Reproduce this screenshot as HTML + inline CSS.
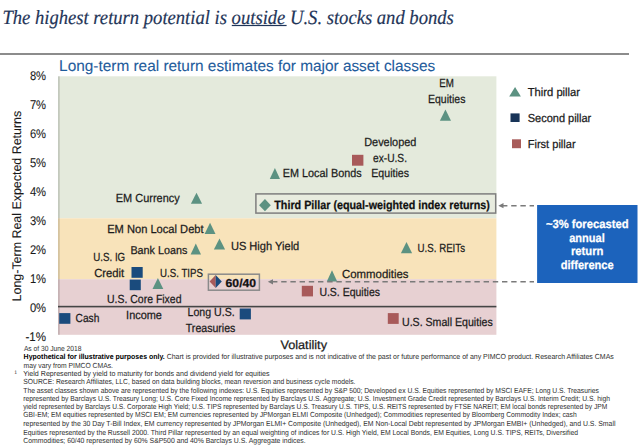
<!DOCTYPE html>
<html><head><meta charset="utf-8"><title>Chart</title>
<style>
html,body{margin:0;padding:0;background:#fff;width:643px;height:447px;overflow:hidden}
svg{display:block} text{text-rendering:geometricPrecision}
</style></head><body>
<svg width="643" height="447" viewBox="0 0 643 447">
<rect width="643" height="447" fill="#fff"/>
<text x="2.4" y="24.3" font-family='"Liberation Serif", serif' font-size="20.2" font-style="italic" fill="#1f3558" stroke="#1f3558" stroke-width="0.2" textLength="451.4" lengthAdjust="spacingAndGlyphs">The highest return potential is outside U.S. stocks and bonds</text>
<rect x="231.8" y="24.9" width="54.8" height="1.2" fill="#1f3558"/>
<rect x="0" y="53" width="629" height="2" fill="#8c8c8c"/>
<text x="59.1" y="70.7" font-family='"Liberation Sans", sans-serif' font-size="15.5" font-weight="normal" font-style="normal" fill="#1f5c9c" stroke="#1f5c9c" stroke-width="0.1" textLength="376.1" lengthAdjust="spacingAndGlyphs" >Long-term real return estimates for major asset classes</text>
<rect x="58.0" y="76.3" width="438.4" height="142.0" fill="#e4eadc"/>
<rect x="58.0" y="218.3" width="438.4" height="60.9" fill="#f8e3ba"/>
<rect x="58.0" y="279.2" width="438.4" height="55.6" fill="#e7d0d2"/>
<rect x="58" y="76.3" width="1.8" height="258.5" fill="#000" opacity="0.14"/>
<rect x="58" y="305.8" width="438.4" height="1.6" fill="#454545"/>
<text x="29.9" y="80.4" font-family='"Liberation Sans", sans-serif' font-size="12.6" font-weight="normal" font-style="normal" fill="#1a1a1a" stroke="#1a1a1a" stroke-width="0.1" textLength="16.2" lengthAdjust="spacingAndGlyphs" >8%</text>
<text x="29.9" y="109.3" font-family='"Liberation Sans", sans-serif' font-size="12.6" font-weight="normal" font-style="normal" fill="#1a1a1a" stroke="#1a1a1a" stroke-width="0.1" textLength="16.2" lengthAdjust="spacingAndGlyphs" >7%</text>
<text x="29.9" y="138.2" font-family='"Liberation Sans", sans-serif' font-size="12.6" font-weight="normal" font-style="normal" fill="#1a1a1a" stroke="#1a1a1a" stroke-width="0.1" textLength="16.2" lengthAdjust="spacingAndGlyphs" >6%</text>
<text x="29.9" y="167.1" font-family='"Liberation Sans", sans-serif' font-size="12.6" font-weight="normal" font-style="normal" fill="#1a1a1a" stroke="#1a1a1a" stroke-width="0.1" textLength="16.2" lengthAdjust="spacingAndGlyphs" >5%</text>
<text x="29.9" y="196.0" font-family='"Liberation Sans", sans-serif' font-size="12.6" font-weight="normal" font-style="normal" fill="#1a1a1a" stroke="#1a1a1a" stroke-width="0.1" textLength="16.2" lengthAdjust="spacingAndGlyphs" >4%</text>
<text x="29.9" y="224.9" font-family='"Liberation Sans", sans-serif' font-size="12.6" font-weight="normal" font-style="normal" fill="#1a1a1a" stroke="#1a1a1a" stroke-width="0.1" textLength="16.2" lengthAdjust="spacingAndGlyphs" >3%</text>
<text x="29.9" y="253.8" font-family='"Liberation Sans", sans-serif' font-size="12.6" font-weight="normal" font-style="normal" fill="#1a1a1a" stroke="#1a1a1a" stroke-width="0.1" textLength="16.2" lengthAdjust="spacingAndGlyphs" >2%</text>
<text x="29.9" y="282.7" font-family='"Liberation Sans", sans-serif' font-size="12.6" font-weight="normal" font-style="normal" fill="#1a1a1a" stroke="#1a1a1a" stroke-width="0.1" textLength="16.2" lengthAdjust="spacingAndGlyphs" >1%</text>
<text x="29.9" y="311.6" font-family='"Liberation Sans", sans-serif' font-size="12.6" font-weight="normal" font-style="normal" fill="#1a1a1a" stroke="#1a1a1a" stroke-width="0.1" textLength="16.2" lengthAdjust="spacingAndGlyphs" >0%</text>
<text x="25.5" y="340.5" font-family='"Liberation Sans", sans-serif' font-size="12.6" font-weight="normal" font-style="normal" fill="#1a1a1a" stroke="#1a1a1a" stroke-width="0.1" textLength="20.6" lengthAdjust="spacingAndGlyphs" >-1%</text>
<text x="0" y="0" transform="translate(20.9,301.4) rotate(-90)" font-family='"Liberation Sans", sans-serif' font-size="12.5" fill="#1a1a1a" stroke="#1a1a1a" stroke-width="0.1" textLength="190.6" lengthAdjust="spacingAndGlyphs">Long-Term Real Expected Returns</text>
<text x="439.3" y="86.7" font-family='"Liberation Sans", sans-serif' font-size="11.8" font-weight="normal" font-style="normal" fill="#1a1a1a" stroke="#1a1a1a" stroke-width="0.25" textLength="14.6" lengthAdjust="spacingAndGlyphs" >EM</text>
<text x="428.0" y="102.8" font-family='"Liberation Sans", sans-serif' font-size="11.8" font-weight="normal" font-style="normal" fill="#1a1a1a" stroke="#1a1a1a" stroke-width="0.25" textLength="37.4" lengthAdjust="spacingAndGlyphs" >Equities</text>
<text x="364.2" y="145.6" font-family='"Liberation Sans", sans-serif' font-size="11.8" font-weight="normal" font-style="normal" fill="#1a1a1a" stroke="#1a1a1a" stroke-width="0.25" textLength="52.2" lengthAdjust="spacingAndGlyphs" >Developed</text>
<text x="373.0" y="162.1" font-family='"Liberation Sans", sans-serif' font-size="11.8" font-weight="normal" font-style="normal" fill="#1a1a1a" stroke="#1a1a1a" stroke-width="0.25" textLength="34.0" lengthAdjust="spacingAndGlyphs" >ex-U.S.</text>
<text x="371.3" y="177.1" font-family='"Liberation Sans", sans-serif' font-size="11.8" font-weight="normal" font-style="normal" fill="#1a1a1a" stroke="#1a1a1a" stroke-width="0.25" textLength="37.7" lengthAdjust="spacingAndGlyphs" >Equities</text>
<text x="282.8" y="176.9" font-family='"Liberation Sans", sans-serif' font-size="11.8" font-weight="normal" font-style="normal" fill="#1a1a1a" stroke="#1a1a1a" stroke-width="0.25" textLength="78.9" lengthAdjust="spacingAndGlyphs" >EM Local Bonds</text>
<text x="115.8" y="202.1" font-family='"Liberation Sans", sans-serif' font-size="11.8" font-weight="normal" font-style="normal" fill="#1a1a1a" stroke="#1a1a1a" stroke-width="0.25" textLength="63.9" lengthAdjust="spacingAndGlyphs" >EM Currency</text>
<text x="107.2" y="232.7" font-family='"Liberation Sans", sans-serif' font-size="11.8" font-weight="normal" font-style="normal" fill="#1a1a1a" stroke="#1a1a1a" stroke-width="0.25" textLength="96.4" lengthAdjust="spacingAndGlyphs" >EM Non Local Debt</text>
<text x="130.4" y="253.6" font-family='"Liberation Sans", sans-serif' font-size="11.4" font-weight="normal" font-style="normal" fill="#1a1a1a" stroke="#1a1a1a" stroke-width="0.25" textLength="56.9" lengthAdjust="spacingAndGlyphs" >Bank Loans</text>
<text x="230.9" y="249.6" font-family='"Liberation Sans", sans-serif' font-size="11.8" font-weight="normal" font-style="normal" fill="#1a1a1a" stroke="#1a1a1a" stroke-width="0.25" textLength="68.4" lengthAdjust="spacingAndGlyphs" >US High Yield</text>
<text x="417.6" y="251.7" font-family='"Liberation Sans", sans-serif' font-size="11.8" font-weight="normal" font-style="normal" fill="#1a1a1a" stroke="#1a1a1a" stroke-width="0.25" textLength="47.4" lengthAdjust="spacingAndGlyphs" >U.S. REITs</text>
<text x="93.3" y="260.6" font-family='"Liberation Sans", sans-serif' font-size="11.8" font-weight="normal" font-style="normal" fill="#1a1a1a" stroke="#1a1a1a" stroke-width="0.25" textLength="31.9" lengthAdjust="spacingAndGlyphs" >U.S. IG</text>
<text x="94.2" y="276.6" font-family='"Liberation Sans", sans-serif' font-size="11.8" font-weight="normal" font-style="normal" fill="#1a1a1a" stroke="#1a1a1a" stroke-width="0.25" textLength="30.0" lengthAdjust="spacingAndGlyphs" >Credit</text>
<text x="160.1" y="277.4" font-family='"Liberation Sans", sans-serif' font-size="11.8" font-weight="normal" font-style="normal" fill="#1a1a1a" stroke="#1a1a1a" stroke-width="0.25" textLength="42.8" lengthAdjust="spacingAndGlyphs" >U.S. TIPS</text>
<text x="342.0" y="278.2" font-family='"Liberation Sans", sans-serif' font-size="11.8" font-weight="normal" font-style="normal" fill="#1a1a1a" stroke="#1a1a1a" stroke-width="0.25" textLength="66.5" lengthAdjust="spacingAndGlyphs" >Commodities</text>
<text x="319.4" y="296.3" font-family='"Liberation Sans", sans-serif' font-size="11.8" font-weight="normal" font-style="normal" fill="#1a1a1a" stroke="#1a1a1a" stroke-width="0.25" textLength="60.6" lengthAdjust="spacingAndGlyphs" >U.S. Equities</text>
<text x="107.0" y="303.0" font-family='"Liberation Sans", sans-serif' font-size="11.8" font-weight="normal" font-style="normal" fill="#1a1a1a" stroke="#1a1a1a" stroke-width="0.25" textLength="74.5" lengthAdjust="spacingAndGlyphs" >U.S. Core Fixed</text>
<text x="75.6" y="322.0" font-family='"Liberation Sans", sans-serif' font-size="11.8" font-weight="normal" font-style="normal" fill="#1a1a1a" stroke="#1a1a1a" stroke-width="0.25" textLength="23.7" lengthAdjust="spacingAndGlyphs" >Cash</text>
<text x="126.1" y="319.3" font-family='"Liberation Sans", sans-serif' font-size="11.8" font-weight="normal" font-style="normal" fill="#1a1a1a" stroke="#1a1a1a" stroke-width="0.25" textLength="35.8" lengthAdjust="spacingAndGlyphs" >Income</text>
<text x="187.6" y="315.5" font-family='"Liberation Sans", sans-serif' font-size="11.8" font-weight="normal" font-style="normal" fill="#1a1a1a" stroke="#1a1a1a" stroke-width="0.25" textLength="47.1" lengthAdjust="spacingAndGlyphs" >Long U.S.</text>
<text x="185.8" y="331.6" font-family='"Liberation Sans", sans-serif' font-size="11.8" font-weight="normal" font-style="normal" fill="#1a1a1a" stroke="#1a1a1a" stroke-width="0.25" textLength="49.6" lengthAdjust="spacingAndGlyphs" >Treasuries</text>
<text x="402.0" y="325.5" font-family='"Liberation Sans", sans-serif' font-size="11.8" font-weight="normal" font-style="normal" fill="#1a1a1a" stroke="#1a1a1a" stroke-width="0.25" textLength="90.7" lengthAdjust="spacingAndGlyphs" >U.S. Small Equities</text>
<text x="280.4" y="349.2" font-family='"Liberation Sans", sans-serif' font-size="12.3" font-weight="normal" font-style="normal" fill="#1a1a1a" stroke="#1a1a1a" stroke-width="0.25" textLength="46.6" lengthAdjust="spacingAndGlyphs" >Volatility</text>
<polygon points="445.45,109.60 451.00,120.70 439.90,120.70" fill="#5c9282"/>
<polygon points="274.90,168.10 280.00,179.00 269.80,179.00" fill="#5c9282"/>
<polygon points="196.50,192.70 202.10,203.70 190.90,203.70" fill="#5c9282"/>
<polygon points="210.05,222.80 215.50,234.00 204.60,234.00" fill="#5c9282"/>
<polygon points="219.50,238.40 225.10,249.50 213.90,249.50" fill="#5c9282"/>
<polygon points="195.80,243.60 201.00,254.50 190.60,254.50" fill="#5c9282"/>
<polygon points="406.50,242.10 412.10,253.30 400.90,253.30" fill="#5c9282"/>
<polygon points="157.90,278.10 163.30,288.90 152.50,288.90" fill="#5c9282"/>
<polygon points="332.00,270.30 337.20,281.50 326.80,281.50" fill="#5c9282"/>
<rect x="352.00" y="154.80" width="11.40" height="10.90" fill="#a85a5a"/>
<rect x="301.80" y="285.80" width="11.20" height="10.60" fill="#a85a5a"/>
<rect x="387.80" y="313.10" width="10.90" height="10.80" fill="#a85a5a"/>
<rect x="131.50" y="267.00" width="11.20" height="10.80" fill="#1a4b7d"/>
<rect x="129.70" y="279.60" width="11.10" height="10.60" fill="#1a4b7d"/>
<rect x="239.70" y="308.50" width="11.20" height="10.90" fill="#1a4b7d"/>
<rect x="59.20" y="313.10" width="11.20" height="10.70" fill="#1a4b7d"/>
<rect x="255.9" y="193.9" width="239.8" height="19.2" fill="#e8ecdf" stroke="#7f7f7f" stroke-width="1.5"/>
<polygon points="264.95,199.10 270.80,205.20 264.95,211.30 259.10,205.20" fill="#5c9282"/>
<text x="274.3" y="208.6" font-family='"Liberation Sans", sans-serif' font-size="12.0" font-weight="bold" font-style="normal" fill="#111" stroke="#111" stroke-width="0.25" textLength="215.6" lengthAdjust="spacingAndGlyphs" >Third Pillar (equal-weighted index returns)</text>
<rect x="208.4" y="274.2" width="51" height="16" fill="none" stroke="#8a8a8a" stroke-width="1.5"/>
<polygon points="215.70,275.10 215.70,288.10 209.60,281.60" fill="#a85a5a"/>
<polygon points="215.70,275.10 221.80,281.60 215.70,288.10" fill="#1a4b7d"/>
<text x="225.6" y="286.5" font-family='"Liberation Sans", sans-serif' font-size="11.5" font-weight="bold" font-style="normal" fill="#111" stroke="#111" stroke-width="0.25" textLength="30.5" lengthAdjust="spacingAndGlyphs" >60/40</text>
<line x1="272" y1="281.8" x2="534" y2="281.8" stroke="#7a7a7a" stroke-width="1.5" stroke-dasharray="5.4 3.8"/>
<polygon points="267.8,281.8 273,279.2 273,284.4" fill="#7a7a7a"/>
<line x1="502" y1="205.7" x2="534" y2="205.7" stroke="#7a7a7a" stroke-width="1.5" stroke-dasharray="5.4 3.8"/>
<polygon points="498.3,205.7 503.5,203.1 503.5,208.3" fill="#7a7a7a"/>
<rect x="537.1" y="205" width="100.4" height="78" fill="#1c63bc"/>
<text x="545.9" y="228.3" font-family='"Liberation Sans", sans-serif' font-size="12" font-weight="bold" font-style="normal" fill="#fff" stroke="#fff" stroke-width="0.25" textLength="82.6" lengthAdjust="spacingAndGlyphs" >~3% forecasted</text>
<text x="569.2" y="242.1" font-family='"Liberation Sans", sans-serif' font-size="12" font-weight="bold" font-style="normal" fill="#fff" stroke="#fff" stroke-width="0.25" textLength="35.5" lengthAdjust="spacingAndGlyphs" >annual</text>
<text x="570.9" y="255.4" font-family='"Liberation Sans", sans-serif' font-size="12" font-weight="bold" font-style="normal" fill="#fff" stroke="#fff" stroke-width="0.25" textLength="32.6" lengthAdjust="spacingAndGlyphs" >return</text>
<text x="560.7" y="269.2" font-family='"Liberation Sans", sans-serif' font-size="12" font-weight="bold" font-style="normal" fill="#fff" stroke="#fff" stroke-width="0.25" textLength="53.0" lengthAdjust="spacingAndGlyphs" >difference</text>
<polygon points="515.05,87.10 520.90,96.60 509.20,96.60" fill="#5c9282"/>
<rect x="510.50" y="113.40" width="9.10" height="8.60" fill="#183458"/>
<rect x="512.00" y="139.30" width="9.00" height="8.90" fill="#a85c5a"/>
<text x="527.7" y="96.2" font-family='"Liberation Sans", sans-serif' font-size="11.6" font-weight="normal" font-style="normal" fill="#1a1a1a" stroke="#1a1a1a" stroke-width="0.25" textLength="52.4" lengthAdjust="spacingAndGlyphs" >Third pillar</text>
<text x="527.7" y="122.0" font-family='"Liberation Sans", sans-serif' font-size="11.6" font-weight="normal" font-style="normal" fill="#1a1a1a" stroke="#1a1a1a" stroke-width="0.25" textLength="63.6" lengthAdjust="spacingAndGlyphs" >Second pillar</text>
<text x="527.7" y="148.0" font-family='"Liberation Sans", sans-serif' font-size="11.6" font-weight="normal" font-style="normal" fill="#1a1a1a" stroke="#1a1a1a" stroke-width="0.25" textLength="47.9" lengthAdjust="spacingAndGlyphs" >First pillar</text>
<text x="23.9" y="350.8" font-family='"Liberation Sans", sans-serif' font-size="7.4" font-weight="normal" font-style="normal" fill="#2e2e2e"  textLength="57.5" lengthAdjust="spacingAndGlyphs" >As of 30 June 2018</text>
<text x="23.6" y="359.0" font-family='"Liberation Sans", sans-serif' font-size="7.4" fill="#2e2e2e" textLength="590.2" lengthAdjust="spacingAndGlyphs"><tspan font-weight="bold" fill="#000">Hypothetical for illustrative purposes only.</tspan> Chart is provided for illustrative purposes and is not indicative of the past or future performance of any PIMCO product. Research Affiliates CMAs</text>
<text x="23.6" y="367.5" font-family='"Liberation Sans", sans-serif' font-size="7.4" font-weight="normal" font-style="normal" fill="#2e2e2e"  textLength="89.4" lengthAdjust="spacingAndGlyphs" >may vary from PIMCO CMAs.</text>
<text x="23.3" y="375.6" font-family='"Liberation Sans", sans-serif' font-size="7.4" font-weight="normal" font-style="normal" fill="#2e2e2e"  textLength="246.3" lengthAdjust="spacingAndGlyphs" >Yield Represented by yield to maturity for bonds and dividend yield for equities</text>
<text x="23.3" y="384.4" font-family='"Liberation Sans", sans-serif' font-size="7.4" font-weight="normal" font-style="normal" fill="#2e2e2e"  textLength="332.2" lengthAdjust="spacingAndGlyphs" >SOURCE: Research Affiliates, LLC, based on data building blocks, mean reversion and business cycle models.</text>
<text x="23.3" y="392.8" font-family='"Liberation Sans", sans-serif' font-size="7.4" font-weight="normal" font-style="normal" fill="#2e2e2e"  textLength="575.6" lengthAdjust="spacingAndGlyphs" >The asset classes shown above are represented by the following indexes:  U.S. Equities represented by S&amp;P 500; Developed ex U.S. Equities represented by MSCI EAFE; Long U.S. Treasuries</text>
<text x="23.3" y="400.6" font-family='"Liberation Sans", sans-serif' font-size="7.4" font-weight="normal" font-style="normal" fill="#2e2e2e"  textLength="586.6" lengthAdjust="spacingAndGlyphs" >represented by Barclays U.S. Treasury Long; U.S. Core Fixed Income represented by Barclays U.S. Aggregate; U.S. Investment Grade Credit represented by Barclays U.S. Interim Credit; U.S. high</text>
<text x="23.3" y="408.7" font-family='"Liberation Sans", sans-serif' font-size="7.4" font-weight="normal" font-style="normal" fill="#2e2e2e"  textLength="583.9" lengthAdjust="spacingAndGlyphs" >yield represented by Barclays U.S. Corporate High Yield; U.S. TIPS represented by Barclays U.S. Treasury U.S. TIPS, U.S. REITS represented by FTSE NAREIT; EM local bonds represented by JPM</text>
<text x="23.3" y="417.4" font-family='"Liberation Sans", sans-serif' font-size="7.4" font-weight="normal" font-style="normal" fill="#2e2e2e"  textLength="553.4" lengthAdjust="spacingAndGlyphs" >GBI-EM; EM equities represented by MSCI EM; EM currencies represented by JPMorgan ELMI Composite (Unhedged); Commodities represented by Bloomberg Commodity Index; cash</text>
<text x="23.3" y="426.0" font-family='"Liberation Sans", sans-serif' font-size="7.4" font-weight="normal" font-style="normal" fill="#2e2e2e"  textLength="592.2" lengthAdjust="spacingAndGlyphs" >represented by the 30 Day T-Bill Index, EM currency represented by JPMorgan ELMI+ Composite (Unhedged), EM Non-Local Debt represented by JPMorgan EMBI+ (Unhedged), and  U.S. Small</text>
<text x="23.3" y="434.5" font-family='"Liberation Sans", sans-serif' font-size="7.4" font-weight="normal" font-style="normal" fill="#2e2e2e"  textLength="554.7" lengthAdjust="spacingAndGlyphs" >Equities represented by the Russell 2000. Third Pillar represented by an equal weighting of indices for U.S. High Yield, EM Local Bonds, EM Equities, Long U.S. TIPS, REITs, Diversified</text>
<text x="23.3" y="442.5" font-family='"Liberation Sans", sans-serif' font-size="7.4" font-weight="normal" font-style="normal" fill="#2e2e2e"  textLength="282.3" lengthAdjust="spacingAndGlyphs" >Commodities; 60/40 represented by 60% S&amp;P500 and 40% Barclays U.S. Aggregate indices.</text>
<text x="14.2" y="374" font-family='"Liberation Sans", sans-serif' font-size="5" fill="#2e2e2e">1</text>
</svg>
</body></html>
